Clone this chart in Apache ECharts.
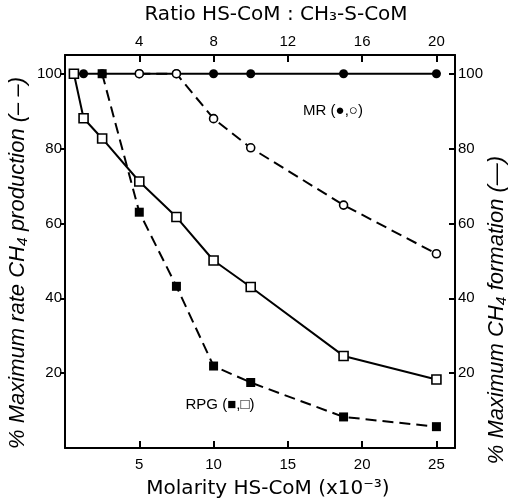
<!DOCTYPE html>
<html>
<head>
<meta charset="utf-8">
<script src="https://cdn.jsdelivr.net/npm/echarts@6/dist/echarts.min.js"></script>
<style>html,body{margin:0;padding:0;background:#fff;}#c{width:514px;height:500px;}</style>
</head>
<body>
<div id="c"></div>
<script>
// Molarity HS-CoM (x10^-3)
const molarity = [0.6, 1.25, 2.5, 5, 7.5, 10, 12.5, 18.75, 25];
// MR filled circles (formation, solid)
const mrFilled = [100, 100, 100, 100, 100, 100, 100, 100, 100];
// MR open circles (rate, dashed)
const mrOpenX = [5, 7.5, 10, 12.5, 18.75, 25];
const mrOpen = [100, 100, 88, 80.2, 64.9, 51.9];
// RPG open squares (formation, solid)
const rpgOpen = [100, 88.1, 82.7, 71.2, 61.7, 50.1, 43, 24.6, 18.3];
// RPG filled squares (rate, dashed)
const rpgFilledX = [2.5, 5, 7.5, 10, 12.5, 18.75, 25];
const rpgFilled = [100, 63, 43.2, 21.9, 17.5, 8.3, 5.7];
// tick labels
const bottomTicks = [5, 10, 15, 20, 25];
const topTicks = [4, 8, 12, 16, 20];
const yTicks = [20, 40, 60, 80, 100];

const F = 'Liberation Sans, Arial, sans-serif';
const zip = (xs, ys) => xs.map((x, i) => [x, ys[i]]);
const dash = [11, 6];

const chart = echarts.init(document.getElementById('c'), null, {renderer: 'canvas'});
const axisLineStyle = {show: true, onZero: false, lineStyle: {color: '#000', width: 2}};
const lbl = {color: '#000', fontFamily: F, fontSize: 15};
const tick = (inside, len, vals) => ({show: true, inside: inside, length: len, customValues: vals, lineStyle: {color: '#000', width: 2}});

chart.setOption({
  animation: false,
  backgroundColor: '#fff',
  grid: {left: 65, right: 59, top: 55, bottom: 52, containLabel: false},
  xAxis: [
    {type: 'value', position: 'bottom', min: 0, max: 26.25, interval: 5,
     axisLine: axisLineStyle, axisTick: tick(true, 7, bottomTicks),
     axisLabel: Object.assign({margin: 9, customValues: bottomTicks, formatter: v => bottomTicks.includes(v) ? String(v) : ''}, lbl),
     splitLine: {show: false}},
    {type: 'value', position: 'top', min: 0, max: 21, interval: 4,
     axisLine: axisLineStyle, axisTick: tick(true, 7, topTicks),
     axisLabel: Object.assign({margin: 6, customValues: topTicks, formatter: v => topTicks.includes(v) ? String(v) : ''}, lbl),
     splitLine: {show: false}}
  ],
  yAxis: [
    {type: 'value', position: 'left', min: 0, max: 105, interval: 20,
     axisLine: axisLineStyle, axisTick: tick(false, 5, yTicks),
     axisLabel: Object.assign({margin: 3, customValues: yTicks, formatter: v => yTicks.includes(v) ? String(v) : ''}, lbl),
     splitLine: {show: false}},
    {type: 'value', position: 'right', min: 0, max: 105, interval: 20,
     axisLine: axisLineStyle, axisTick: tick(true, 6, yTicks),
     axisLabel: Object.assign({margin: 3, customValues: yTicks, formatter: v => yTicks.includes(v) ? String(v) : ''}, lbl),
     splitLine: {show: false}}
  ],
  series: [
    {type: 'line', name: 'MR filled', data: zip(molarity, mrFilled), symbol: 'circle', symbolSize: 9,
     itemStyle: {color: '#000'}, lineStyle: {color: '#000', width: 2}, z: 2},
    {type: 'line', name: 'MR open', data: zip(mrOpenX, mrOpen), symbol: 'circle', symbolSize: 8,
     itemStyle: {color: '#fff', borderColor: '#000', borderWidth: 1.6}, lineStyle: {color: '#000', width: 2, type: dash}, z: 3},
    {type: 'line', name: 'RPG open', data: zip(molarity, rpgOpen), symbol: 'rect', symbolSize: 9,
     itemStyle: {color: '#fff', borderColor: '#000', borderWidth: 1.6}, lineStyle: {color: '#000', width: 2}, z: 3},
    {type: 'line', name: 'RPG filled', data: zip(rpgFilledX, rpgFilled), symbol: 'rect', symbolSize: 9,
     itemStyle: {color: '#000'}, lineStyle: {color: '#000', width: 2, type: dash}, z: 4}
  ],
  graphic: [
    {type: 'text', x: 276, y: 15, style: {text: 'Ratio HS-CoM : CH₃-S-CoM', font: '20px DejaVu Sans, sans-serif', fill: '#000', textAlign: 'center', textVerticalAlign: 'middle'}},
    {type: 'text', x: 268, y: 489, style: {text: 'Molarity HS-CoM (x10⁻³)', font: '20px DejaVu Sans, sans-serif', fill: '#000', textAlign: 'center', textVerticalAlign: 'middle'}},
    {type: 'text', x: 18, y: 263, rotation: Math.PI / 2, style: {text: '% Maximum rate CH₄ production (– –)', font: 'italic 22px ' + F, fill: '#000', textAlign: 'center', textVerticalAlign: 'middle'}},
    {type: 'text', x: 497, y: 310, rotation: Math.PI / 2, style: {text: '% Maximum CH₄ formation (—)', font: 'italic 22px ' + F, fill: '#000', textAlign: 'center', textVerticalAlign: 'middle'}},
    {type: 'text', x: 333, y: 111, style: {text: 'MR (●,○)', font: '15px ' + F, fill: '#000', textAlign: 'center', textVerticalAlign: 'middle'}},
    {type: 'text', x: 220, y: 405, style: {text: 'RPG (■,□)', font: '15px ' + F, fill: '#000', textAlign: 'center', textVerticalAlign: 'middle'}}
  ]
});
</script>
</body>
</html>
